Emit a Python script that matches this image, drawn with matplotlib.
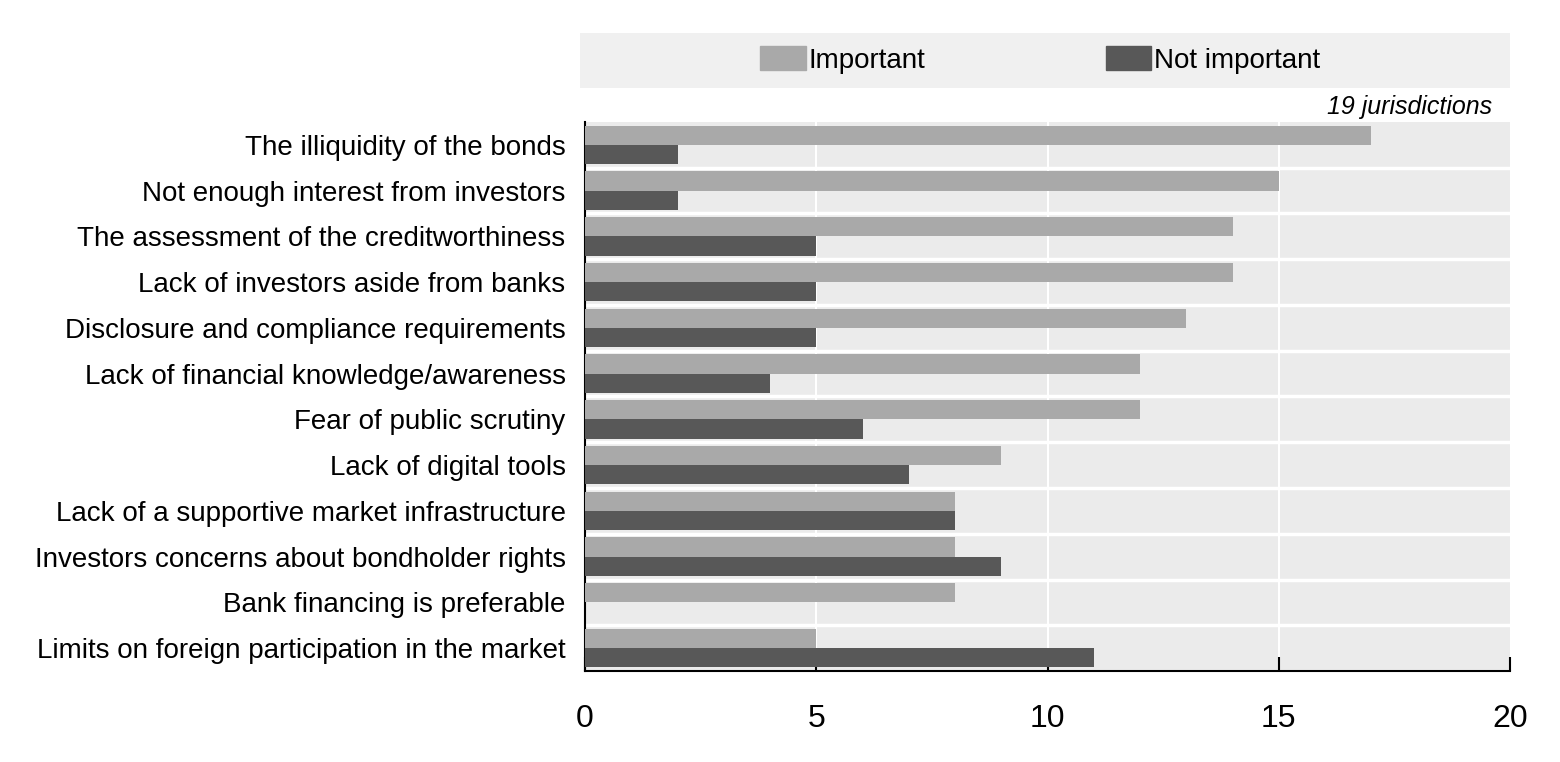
import matplotlib
matplotlib.use('Agg')
import matplotlib.pyplot as plt
from matplotlib.patches import Rectangle, Patch
import numpy as np

plt.rcParams['font.family'] = ['Liberation Sans Narrow', 'Liberation Sans', 'DejaVu Sans']

categories = [
    "The illiquidity of the bonds",
    "Not enough interest from investors",
    "The assessment of the creditworthiness",
    "Lack of investors aside from banks",
    "Disclosure and compliance requirements",
    "Lack of financial knowledge/awareness",
    "Fear of public scrutiny",
    "Lack of digital tools",
    "Lack of a supportive market infrastructure",
    "Investors concerns about bondholder rights",
    "Bank financing is preferable",
    "Limits on foreign participation in the market",
]
important = [17, 15, 14, 14, 13, 12, 12, 9, 8, 8, 8, 5]
not_important = [2, 2, 5, 5, 5, 4, 6, 7, 8, 9, 0, 11]
x_ticks = [0, 5, 10, 15, 20]

c_imp = '#a9a9a9'
c_not = '#585858'
bg = '#ebebeb'

fig = plt.figure(figsize=(15.6, 7.62), dpi=100)
ax = fig.add_axes([585 / 1560, 1 - 671 / 762, 925 / 1560, 549 / 762])
ax.set_facecolor(bg)

y = np.arange(len(categories))
h = 0.42
ax.barh(y - h / 2, important, height=h, color=c_imp, zorder=3)
ax.barh(y + h / 2, not_important, height=h, color=c_not, zorder=3)

# white grid lines between categories and at x ticks
for b in np.arange(-0.5, len(categories), 1.0)[1:]:
    ax.axhline(b, color='white', lw=2.5, zorder=1)
for t in x_ticks[1:-1]:
    ax.axvline(t, color='white', lw=1.5, zorder=1)

ax.set_xlim(0, 20)
ax.set_ylim(len(categories) - 0.5, -0.5)
ax.set_xticks(x_ticks)
ax.set_yticks(y)
ax.set_yticklabels(categories, fontsize=20)
ax.tick_params(axis='y', length=0, pad=14)
ax.tick_params(axis='x', direction='in', length=10, width=1.5, labelsize=23, pad=24)

for s in ['top', 'right']:
    ax.spines[s].set_visible(False)
ax.spines['left'].set_linewidth(1.5)
ax.spines['bottom'].set_linewidth(1.5)

# legend band
fig.patches.append(Rectangle((580 / 1560, 1 - 88 / 762), 930 / 1560, 55 / 762,
                             transform=fig.transFigure, facecolor='#f0f0f0',
                             edgecolor='none', zorder=0))
handles = [Patch(color=c_imp, label='Important'), Patch(color=c_not, label='Not important')]
fig.legend(handles=handles, loc='center', bbox_to_anchor=(1040 / 1560, 1 - 60 / 762),
           ncol=2, frameon=False, fontsize=20, handlelength=1.65, handleheight=0.9,
           handletextpad=0.1, columnspacing=6.5)

fig.text(1492 / 1560, 1 - 107 / 762, '19 jurisdictions', ha='right', va='center',
         fontsize=18, style='italic')

fig.savefig('out.png', dpi=100)
